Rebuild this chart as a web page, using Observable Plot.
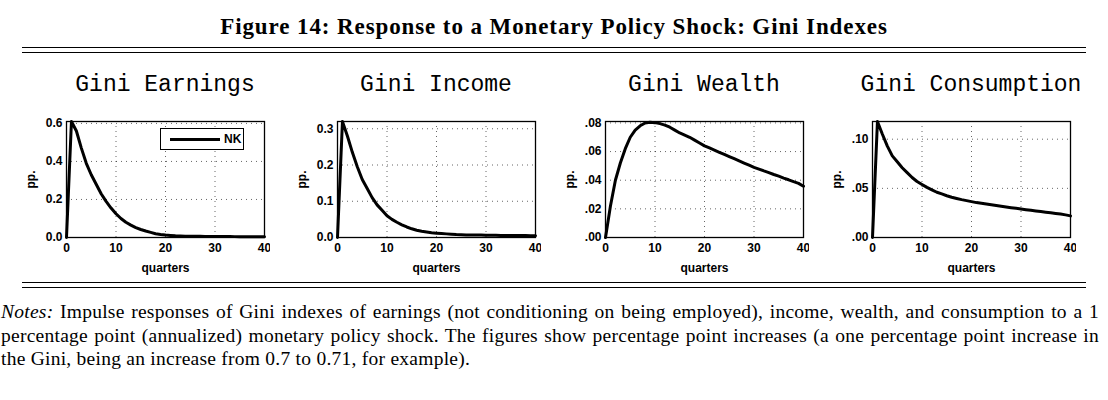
<!DOCTYPE html>
<html><head><meta charset="utf-8">
<script src="https://cdn.jsdelivr.net/npm/d3@7"></script>
<script src="https://cdn.jsdelivr.net/npm/@observablehq/plot@0.6"></script>
<style>
body{margin:0;background:#fff;width:1108px;height:400px;position:relative;overflow:hidden;font-family:"Liberation Serif","DejaVu Serif",serif}
.title{position:absolute;top:14px;left:0;width:1108px;text-align:center;font-weight:bold;font-size:23px;letter-spacing:0.9px;white-space:nowrap}
.rule{position:absolute;left:22px;width:1064px;border-top:1.3px solid #000}
.ptitle{position:absolute;top:72px;width:260px;text-align:center;font-family:"Liberation Mono","DejaVu Sans Mono",monospace;font-size:23px;white-space:nowrap}
.panel{position:absolute;top:110px}
.legend{position:absolute;left:160px;top:128px;width:84px;height:22px;border:1.3px solid #000;background:#fff;box-sizing:border-box;font:bold 12px "Liberation Sans",Arial,sans-serif}
.legend span.l{position:absolute;left:9px;top:9px;width:50px;border-top:3px solid #000}
.legend span.t{position:absolute;left:63px;top:3px}
.notes{position:absolute;left:1px;top:300px;width:1098px;font-size:19.5px;line-height:23.5px;text-align:justify;letter-spacing:0.25px}
</style></head><body>
<div class="title">Figure 14: Response to a Monetary Policy Shock: Gini Indexes</div>
<div class="rule" style="top:47px"></div><div class="rule" style="top:52px"></div>
<div class="rule" style="top:282px"></div><div class="rule" style="top:287px"></div>
<div id="charts"></div>
<div class="notes"><i>Notes:</i> Impulse responses of Gini indexes of earnings (not conditioning on being employed), income, wealth, and consumption to a 1 percentage point (annualized) monetary policy shock. The figures show percentage point increases (a one percentage point increase in the Gini, being an increase from 0.7 to 0.71, for example).</div>
<script>
const quarters = d3.range(0, 41);
const titles = ["Gini Earnings", "Gini Income", "Gini Wealth", "Gini Consumption"];
const earnings = [0,0.61,0.56,0.47,0.39,0.33,0.28,0.23,0.19,0.155,0.125,0.10,0.08,0.065,0.052,0.042,0.034,0.027,0.02,0.016,0.013,0.011,0.009,0.008,0.007,0.0065,0.006,0.006,0.0055,0.0055,0.005,0.005,0.005,0.0048,0.0046,0.0045,0.0044,0.0043,0.0042,0.0041,0.004];
const income = [0,0.32,0.28,0.235,0.195,0.16,0.135,0.11,0.09,0.075,0.06,0.05,0.042,0.035,0.029,0.024,0.02,0.017,0.015,0.013,0.012,0.011,0.01,0.009,0.008,0.0075,0.007,0.007,0.0068,0.0066,0.0064,0.0062,0.006,0.0058,0.0056,0.0055,0.0054,0.0053,0.0052,0.0051,0.005];
const wealth = [0,0.022,0.04,0.052,0.062,0.07,0.075,0.078,0.080,0.0805,0.0802,0.0795,0.0785,0.077,0.075,0.073,0.0715,0.07,0.068,0.066,0.064,0.0625,0.061,0.0595,0.058,0.0565,0.055,0.0535,0.052,0.0505,0.049,0.0478,0.0465,0.0453,0.044,0.0428,0.0415,0.0403,0.039,0.0378,0.0358];
const consumption = [0,0.118,0.105,0.093,0.083,0.077,0.071,0.066,0.061,0.057,0.054,0.051,0.0485,0.046,0.0443,0.0425,0.041,0.0397,0.0385,0.0375,0.0365,0.0355,0.0348,0.034,0.0333,0.0325,0.0318,0.031,0.0303,0.0297,0.029,0.0283,0.0277,0.027,0.0264,0.0258,0.0252,0.0245,0.0238,0.023,0.022];
const series = [earnings, income, wealth, consumption];
const yDomains = [[0,0.61],[0,0.32],[0,0.081],[0,0.118]];
const yTicks = [[0,0.2,0.4,0.6],[0,0.1,0.2,0.3],[0,0.02,0.04,0.06,0.08],[0,0.05,0.10]];
const fmt1 = d3.format(".1f");
const fmt2 = d => d3.format(".2f")(d).replace(/^0/, "");
const yFormats = [fmt1, fmt1, fmt2, fmt2];
const lefts = [0, 271, 539, 806];

const holder = document.getElementById("charts");
series.forEach((vals, i) => {
  const data = quarters.map((q, j) => ({q, v: vals[j]}));
  const div = document.createElement("div");
  div.className = "panel";
  div.style.left = lefts[i] + "px";
  const chart = Plot.plot({
    width: 270, height: 167,
    marginLeft: 66, marginRight: 6, marginTop: 11, marginBottom: 40,
    style: {fontFamily: "Liberation Sans, Arial, sans-serif", fontSize: "12px", fontWeight: "bold", color: "#000"},
    x: {domain: [0, 40], ticks: [0,10,20,30,40], label: "quarters", labelArrow: "none", labelAnchor: "center", labelOffset: 34, tickSize: 0, tickPadding: 6},
    y: {domain: yDomains[i], ticks: yTicks[i], tickFormat: yFormats[i], label: "pp.", labelArrow: "none", labelAnchor: "center", labelOffset: 40, tickSize: 0, tickPadding: 4},
    marks: [
      Plot.gridX([10,20,30], {stroke: "#000", strokeOpacity: 0.6, strokeDasharray: "1,4"}),
      Plot.gridY(yTicks[i], {stroke: "#000", strokeOpacity: 0.6, strokeDasharray: "1,4"}),
      Plot.line(data, {x: "q", y: "v", stroke: "#000", strokeWidth: 3}),
      Plot.frame({stroke: "#000", strokeWidth: 1.3})
    ]
  });
  div.appendChild(chart);
  holder.appendChild(div);
  const t = document.createElement("div");
  t.className = "ptitle";
  t.textContent = titles[i];
  t.style.left = (lefts[i] + 66 + 99 - 130) + "px";
  holder.appendChild(t);
});
const lg = document.createElement("div");
lg.className = "legend";
lg.innerHTML = '<span class="l"></span><span class="t">NK</span>';
holder.appendChild(lg);
</script>
</body></html>
